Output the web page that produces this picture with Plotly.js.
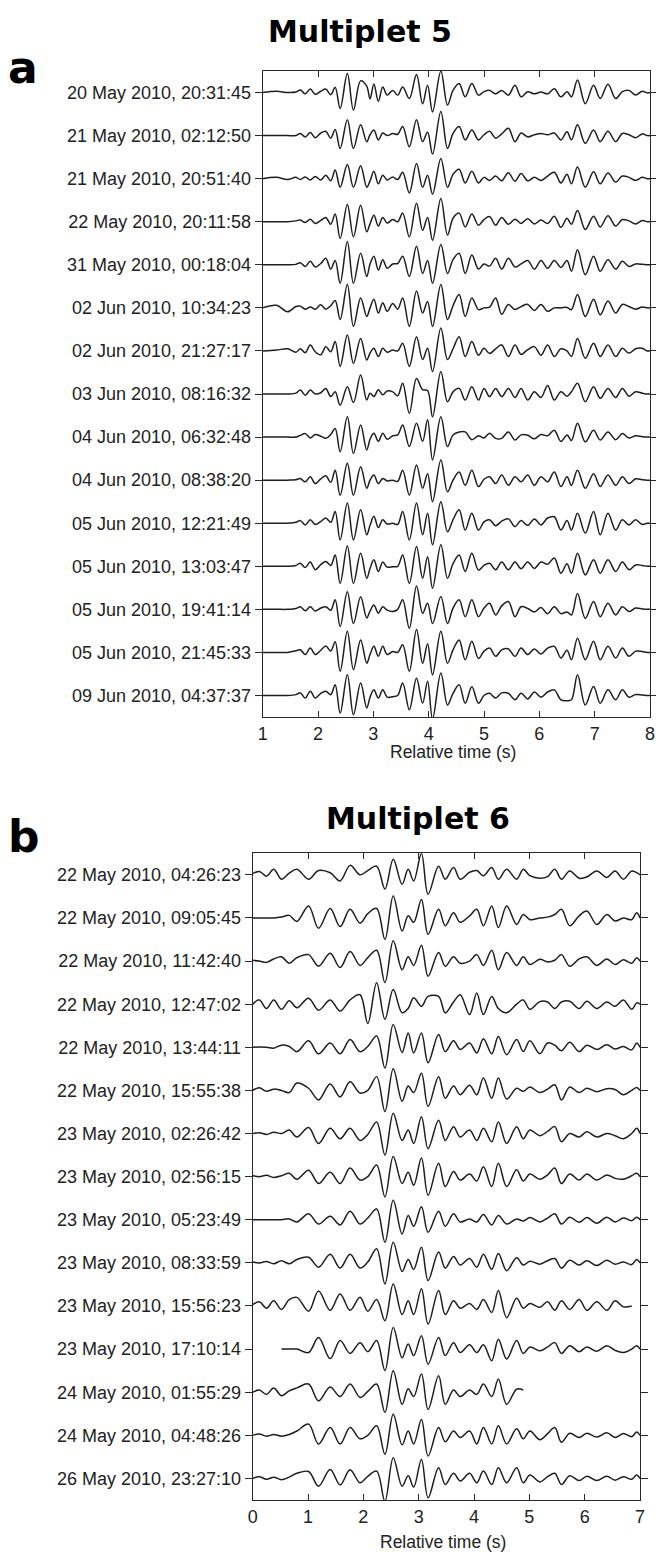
<!DOCTYPE html>
<html>
<head>
<meta charset="utf-8">
<script src="https://cdn.plot.ly/plotly-3.0.1.min.js"></script>
<style>html,body{margin:0;padding:0;background:#fff;}#chart{width:656px;height:1553px;}</style>
</head>
<body>
<div id="chart"></div>
<script>
// ---------- Panel a (Multiplet 5): shared time samples (s) ----------
const tA = [1.00,1.25,1.45,1.60,1.68,1.77,1.86,1.95,2.05,2.14, 2.23,2.31,2.40,2.53,2.64,2.77,2.88,2.94,3.01,3.09, 3.17,3.25,3.35,3.44,3.53,3.65,3.78,3.89,3.98,4.07, 4.22,4.34,4.44,4.55,4.66,4.78,4.90,5.00,5.10,5.21, 5.32,5.44,5.56,5.67,5.79,5.91,6.03,6.15,6.27,6.39, 6.50,6.58,6.69,6.83,6.98,7.10,7.24,7.38,7.50,7.62, 7.74,7.86,7.95,8.00];
const labelsA = ["20 May 2010, 20:31:45","21 May 2010, 02:12:50","21 May 2010, 20:51:40","22 May 2010, 20:11:58","31 May 2010, 00:18:04","02 Jun 2010, 10:34:23","02 Jun 2010, 21:27:17","03 Jun 2010, 08:16:32","04 Jun 2010, 06:32:48","04 Jun 2010, 08:38:20","05 Jun 2010, 12:21:49","05 Jun 2010, 13:03:47","05 Jun 2010, 19:41:14","05 Jun 2010, 21:45:33","09 Jun 2010, 04:37:37"];
const tickA = [1,2,3,4,5,6,7,8];
// normalised amplitudes (1 = trace spacing)
const a1  = [0,0.03,0,0.01,0.06,-0.03,0.08,-0.04,0.03,0.08, -0.05,0.12,-0.37,0.44,-0.41,0.27,0.15,-0.15,0.2,-0.2, 0.13,-0.06,0.05,-0.06,0.13,-0.14,0.42,-0.26,0.17,-0.45, 0.5,-0.29,0.05,0.21,-0.1,0.21,-0.06,0.02,0.05,-0.03, 0.05,-0.06,0.17,-0.1,0.02,-0.03,0.01,-0.03,0.09,-0.1, 0.02,-0.1,0.29,-0.26,0.17,-0.14,0.19,-0.14,0.02,0.05, -0.06,0.03,-0.01,0];
const a2  = [0,0,0,0,0.05,-0.03,0.07,-0.05,0.06,0.1, -0.06,0.14,-0.3,0.37,-0.3,0.25,-0.14,0.02,0.13,-0.1, 0.06,0,0.05,0.03,0.21,-0.26,0.37,-0.14,0.08,-0.43, 0.56,-0.3,0.05,0.21,-0.1,0.13,-0.1,0.02,0.1,-0.06, 0.04,0.17,-0.14,0.06,-0.03,0.02,0.05,0.02,0.06,-0.1, 0.09,-0.1,0.25,-0.18,0.13,-0.14,0.1,-0.14,0.05,0.02, -0.05,0.04,0,0];
const a3  = [0,0.03,-0.02,0.03,-0.02,0.04,-0.03,0.05,-0.03,0.08, -0.05,0.2,-0.2,0.33,-0.2,0.3,-0.2,-0.05,0.17,-0.12, 0.08,-0.03,0.04,-0.02,0.15,-0.33,0.35,-0.2,0.08,-0.36, 0.47,-0.2,0.1,0.22,-0.1,0.17,-0.1,0.03,-0.04,0.06, -0.05,0.14,-0.06,0.12,-0.05,0.03,-0.04,0.06,0.15,-0.1, 0.1,-0.12,0.27,-0.2,0.16,-0.12,0.13,-0.08,0.06,0.03, -0.04,0.03,0,0];
const a4  = [0,0,0,0.02,0.04,-0.02,0.06,-0.04,0.03,0.1, -0.06,0.18,-0.39,0.4,-0.35,0.38,-0.23,-0.05,0.15,-0.1, 0.1,-0.03,0.05,0,0.2,-0.35,0.43,-0.2,0.1,-0.43, 0.54,-0.31,0.08,0.2,-0.12,0.18,-0.08,0.05,0.12,-0.08, 0.1,-0.06,0.06,-0.04,0.07,-0.05,0.04,-0.04,0.13,-0.13, 0.08,-0.06,0.26,-0.18,0.13,-0.12,0.14,-0.1,0.05,0.02, -0.05,0.03,0,0];
const a5  = [0,0,0,0.01,0.05,-0.04,0.08,-0.05,0.03,0.15, -0.1,0.1,-0.43,0.54,-0.43,0.27,-0.27,0.02,0.2,-0.12, 0.12,-0.08,0.02,0.03,0.2,-0.27,0.43,-0.2,0.1,-0.43, 0.47,-0.2,0.12,0.27,-0.2,0.23,-0.1,0.02,-0.03,0.15, -0.1,0.15,-0.05,0.02,0.1,-0.1,0.1,-0.08,0.1,-0.06, 0.1,-0.15,0.35,-0.23,0.2,-0.15,0.12,-0.1,0.08,-0.04, 0.02,0.01,0,0];
const a6  = [0,0.06,-0.09,0.03,0.04,-0.03,0.02,-0.03,0.07,-0.03, 0.05,0.17,-0.27,0.54,-0.43,0.23,-0.2,0,0.2,-0.12, 0.12,-0.08,0.1,-0.03,0.23,-0.43,0.39,-0.12,0.15,-0.43, 0.54,-0.27,0.05,0.31,-0.2,0.23,-0.04,0,0.02,0.23, -0.15,0.08,-0.04,0.03,0.08,-0.06,0.08,-0.08,0,0, 0.01,-0.04,0.31,-0.2,0.2,-0.16,0.16,-0.12,0.08,0.03, -0.03,0.02,0,0];
const a7  = [0,0.02,0.05,-0.03,0.05,-0.04,0.14,-0.02,-0.09,0.1, -0.02,0.22,-0.36,0.37,-0.29,0.29,-0.21,-0.05,0.06,-0.13, 0.06,-0.03,0.02,0,0.18,-0.36,0.33,-0.2,0.06,-0.48, 0.53,-0.2,0.05,0.33,-0.13,0.22,-0.1,0.06,-0.06,0.05, 0.14,-0.13,0.14,-0.08,0.03,0.1,-0.1,0.14,-0.13,0.05, 0,-0.13,0.29,-0.17,0.18,-0.13,0.14,-0.13,0.06,-0.05, 0.05,0.06,0,0];
const a8  = [0,0,0,0.02,0.09,-0.03,0.09,0,0.03,0.13, -0.06,0.05,-0.26,0.17,-0.2,0.44,-0.14,0.02,-0.06,0.1, -0.02,0.07,0.05,-0.04,0.25,-0.45,0.36,0.1,0.08,-0.53, 0.52,-0.18,0.05,0.13,-0.14,0.17,-0.14,0.13,-0.06,0.13, -0.06,0.13,-0.08,0.13,-0.14,0.05,-0.08,0.2,-0.14,0.05, -0.05,0.05,0.25,-0.18,0.17,-0.1,0.13,-0.08,0.13,-0.05, 0.05,0.02,0,0];
const a9  = [0,0,0,0,0.04,0.08,-0.02,0.06,0.02,-0.03, 0.06,0.2,-0.34,0.47,-0.38,0.28,-0.3,-0.05,0.09,-0.1, 0.09,-0.05,0.03,0.05,0.28,-0.22,0.32,-0.1,0.4,-0.53, 0.47,-0.22,0.05,0.12,0.12,-0.06,0.03,-0.02,0.09,-0.03, -0.03,0.12,-0.07,0.05,0.04,-0.04,0.06,0.03,0.16,-0.1, 0.05,-0.08,0.32,-0.11,0.16,-0.07,0.12,-0.06,0.08,-0.02, 0.03,0.01,0,0];
const a10 = [0,0,0,0.01,0.04,-0.04,0.08,-0.08,0.03,0.1, -0.05,0.23,-0.35,0.39,-0.35,0.31,-0.19,0,0.12,-0.08, 0.04,-0.02,0,-0.03,0.23,-0.35,0.35,-0.19,0.15,-0.5, 0.47,-0.27,0,0.19,-0.12,0.23,-0.15,0.02,0.08,-0.08, 0.12,-0.12,0.08,-0.04,0.12,-0.12,0.08,-0.04,0.19,-0.15, 0.08,-0.12,0.23,-0.19,0.15,-0.15,0.12,-0.12,0.08,-0.08, 0.03,0.01,0,0];
const a11 = [0,0,0,0.02,0.06,-0.04,0.08,-0.03,0.04,0.12, 0.02,0.27,-0.39,0.47,-0.39,0.31,-0.27,-0.05,0.16,-0.1, 0.08,-0.02,0,-0.03,0.27,-0.39,0.47,-0.27,0.23,-0.5, 0.5,-0.2,0.08,0.31,-0.16,0.23,-0.16,0.03,0.08,-0.06, 0.05,0.1,-0.08,0.06,-0.05,0.1,-0.04,0.12,0.15,-0.16, 0.06,-0.16,0.23,-0.23,0.27,-0.27,0.23,-0.16,0.08,-0.04, 0.08,-0.03,0,0];
const a12 = [0,0,0,0.02,0.07,-0.03,0.1,-0.08,0.04,0.11, 0.02,0.26,-0.4,0.47,-0.4,0.3,-0.28,-0.05,0.15,-0.12, 0.1,-0.02,-0.01,0,0.26,-0.4,0.46,-0.28,0.22,-0.51, 0.5,-0.28,0.06,0.26,-0.12,0.3,-0.09,0.02,0.07,-0.08, 0.1,-0.08,0.1,-0.06,0.1,-0.05,0.1,0.05,0.19,-0.16, 0.06,-0.16,0.3,-0.2,0.15,-0.16,0.15,-0.12,0.1,-0.08, 0.03,0.02,0,0];
const a13 = [0,0,0,0.02,0.06,-0.03,0.06,-0.04,0.03,0.06, -0.02,0.22,-0.4,0.41,-0.33,0.29,-0.2,-0.04,0.1,-0.09, 0.06,-0.02,-0.05,0,0.22,-0.44,0.54,-0.09,0.14,-0.33, 0.3,-0.33,0.03,0.22,-0.17,0.22,-0.17,0.03,0.14,-0.13, 0.08,0.18,-0.17,0.06,0.02,-0.06,0.04,-0.1,0.06,-0.1, -0.06,-0.13,0.37,-0.21,0.18,-0.17,0.14,-0.13,0.06,-0.05, 0.03,0.01,0,0];
const a14 = [0,0,0,0.04,0.06,-0.05,0.1,-0.05,0.05,0.15, 0.03,0.25,-0.44,0.49,-0.4,0.29,-0.25,-0.05,0.14,-0.09, 0.14,-0.05,0.02,0,0.18,-0.44,0.53,-0.25,0.2,-0.52, 0.49,-0.25,0.06,0.29,-0.17,0.26,-0.14,0.03,0.1,-0.09, 0.06,0.08,-0.09,0.1,-0.05,0.08,-0.04,0.1,0.14,-0.13, 0.05,-0.17,0.33,-0.17,0.26,-0.17,0.14,-0.13,0.1,-0.09, 0.03,0.02,0,0];
const a15 = [0,0,0,0.02,0.06,-0.06,0.1,-0.06,0.05,0.1, 0.02,0.25,-0.41,0.48,-0.45,0.29,-0.29,-0.04,0.13,-0.06, 0.13,-0.04,-0.03,0,0.29,-0.33,0.4,-0.18,0.33,-0.55, 0.52,-0.22,0.05,0.25,-0.18,0.2,-0.18,0,0.05,-0.06, 0.06,0.05,-0.1,0.05,-0.08,0.08,-0.04,0.08,0.13,-0.1, -0.12,-0.1,0.48,-0.22,0.21,-0.18,0.13,-0.1,0.13,-0.04, 0.02,0.01,0,0];

// ---------- Panel b (Multiplet 6) ----------
const tB = [0.00,0.12,0.25,0.38,0.52,0.66,0.80,1.01,1.19,1.40, 1.58,1.76,1.94,2.08,2.24,2.39,2.54,2.70,2.81,2.91, 3.05,3.17,3.36,3.48,3.63,3.75,3.92,4.05,4.17,4.32, 4.44,4.59,4.77,4.89,5.01,5.19,5.33,5.46,5.58,5.73, 5.90,6.04,6.22,6.40,6.55,6.70,6.85,6.94,7.00];
const labelsB = ["22 May 2010, 04:26:23","22 May 2010, 09:05:45","22 May 2010, 11:42:40","22 May 2010, 12:47:02","22 May 2010, 13:44:11","22 May 2010, 15:55:38","23 May 2010, 02:26:42","23 May 2010, 02:56:15","23 May 2010, 05:23:49","23 May 2010, 08:33:59","23 May 2010, 15:56:23","23 May 2010, 17:10:14","24 May 2010, 01:55:29","24 May 2010, 04:48:26","26 May 2010, 23:27:10"];
const tickB = [0,1,2,3,4,5,6,7];
const b1  = [0.03,0.08,-0.03,0.13,-0.1,0.04,0.13,-0.1,0.1,0.05, -0.14,0.22,0,0.1,0.2,-0.33,0.36,-0.22,0.13,-0.14, 0.5,-0.45,0.2,-0.1,0.17,-0.1,0.06,0.1,-0.02,0.17, -0.1,0.13,-0.1,0.13,-0.02,-0.08,-0.04,0.13,-0.1,0.09, -0.08,-0.05,0.09,-0.06,0.09,-0.1,0.09,0.05,0];
const b2  = [0,0,0,0,0.02,0.06,-0.08,0.28,-0.24,0.22, -0.2,0.2,-0.12,0.1,0.22,-0.5,0.51,-0.3,0.05,-0.1, 0.43,-0.38,0.2,-0.18,0.12,-0.1,0.05,0.2,-0.18,0.28, -0.22,0.28,-0.15,0.08,-0.04,0,0.02,0.08,0.2,-0.18, 0.05,0.16,-0.15,0.08,-0.07,0,-0.04,0.12,0];
const b3  = [0.02,0,-0.03,0.05,0.1,-0.05,0.08,0.15,-0.12,0.18, -0.15,0.22,-0.1,0.08,0.25,-0.5,0.47,-0.2,0.1,-0.1, 0.37,-0.35,0.2,-0.12,0.1,-0.05,0,0.15,-0.1,0.25, -0.2,0.2,-0.1,0.1,-0.08,0.04,-0.02,0.02,0.15,-0.12, 0.05,0.1,-0.1,0.05,-0.08,0.03,-0.05,0.08,0];
const b4  = [0,0.1,-0.1,0.1,-0.12,0.08,-0.08,0.14,-0.14,0.1, -0.16,0.1,0.22,-0.45,0.5,-0.35,0.34,-0.2,-0.1,0.15, -0.05,0.18,0.18,-0.2,0.05,0.22,-0.24,0.26,-0.24,0.18, -0.1,-0.2,0,0.1,-0.12,0.06,0.05,-0.1,0.05,0.07, -0.1,0.07,-0.1,0.05,-0.05,0.1,-0.12,0.03,0];
const b5  = [0,0.01,0,-0.02,0.05,0.02,-0.1,0.15,-0.15,0.1, -0.15,0.18,-0.1,0.02,0.26,-0.48,0.53,-0.12,0.33,-0.13, 0.33,-0.36,0.3,-0.1,0.15,-0.05,0.1,-0.13,0.2,-0.15, 0.25,-0.17,0.18,-0.1,0.15,-0.15,0.1,0.05,-0.08,0.12, -0.1,0.05,-0.05,0.06,-0.04,0.02,-0.06,0.1,0];
const b6  = [0,0.06,-0.02,0.03,0,-0.05,0.17,0.05,-0.22,0.15, -0.15,0.2,-0.06,0,0.32,-0.49,0.5,-0.25,0.1,-0.05, 0.4,-0.37,0.32,-0.18,0.1,-0.1,0.12,-0.1,0.29,-0.18, 0.29,-0.2,0.05,-0.02,0.08,-0.05,0.03,0.13,-0.22,0.08, -0.05,0.05,-0.03,0.04,0.02,-0.1,0,0.07,0];
const b7  = [0,0.02,-0.02,0.03,0,0.08,-0.08,0.14,-0.23,0.12, -0.12,0.12,-0.16,-0.02,0.27,-0.5,0.47,-0.16,0.08,-0.23, 0.39,-0.35,0.31,-0.16,0.16,-0.08,0.08,-0.16,0.12,-0.19, 0.27,-0.23,0.16,-0.12,0.08,-0.05,0.05,0.16,-0.19,0, -0.08,0.04,-0.08,0,-0.05,-0.12,0,0.12,0];
const b8  = [0.02,0,0.03,-0.02,0.02,0.08,-0.06,0.15,-0.16,0.1, -0.16,0.2,-0.08,0,0.27,-0.47,0.47,-0.16,0.1,-0.2, 0.43,-0.43,0.31,-0.23,0.12,-0.08,0.06,-0.1,0.23,-0.23, 0.31,-0.23,0.16,-0.1,0.06,-0.06,0.04,0.2,-0.16,0.06, -0.08,0.06,-0.08,0.04,-0.04,-0.06,0.02,0.08,0];
const b9  = [0,0,0,0,0,0.02,-0.05,0.14,-0.1,0.08, -0.12,0.2,-0.1,0.04,0.25,-0.52,0.45,-0.33,0.1,-0.15, 0.3,-0.29,0.2,-0.15,0.14,-0.05,0.02,-0.05,0.12,-0.12, 0.1,-0.1,0.02,-0.03,0.05,-0.05,0.04,0.14,-0.1,0.06, -0.06,0.05,-0.08,0.06,-0.05,0.04,-0.02,0.06,0];
const b10 = [0.02,0,0.03,-0.02,0.05,-0.02,0.08,0.13,-0.1,0.2, -0.12,0.2,-0.12,0.02,0.33,-0.49,0.48,-0.2,0.08,-0.15, 0.36,-0.41,0.25,-0.12,0.15,-0.05,0.1,-0.1,0.2,-0.15, 0.22,-0.18,0.12,-0.05,0.04,-0.03,0.05,0.1,-0.12,0.06, -0.05,0.05,-0.06,0.06,-0.03,0.02,-0.04,0.08,0];
const b11 = [0.03,0.1,-0.05,0.12,-0.08,0.15,0.2,-0.12,0.35,-0.1, 0.28,-0.1,0.2,-0.12,0.15,-0.34,0.51,-0.2,0.12,-0.2, 0.4,-0.42,0.36,-0.2,0.12,-0.05,0.06,-0.08,0.15,-0.15, 0.36,-0.27,0.18,-0.05,0.06,-0.03,0.1,-0.1,0.12,-0.08, 0.15,-0.1,0.1,-0.1,0.12,-0.02,0,null,null];
const b12 = [null,null,null,null,0,0,0,-0.08,0.27,-0.22, 0.2,-0.1,0.15,-0.06,0.2,-0.5,0.5,-0.2,0.12,-0.15, 0.31,-0.35,0.27,-0.15,0.15,-0.08,0.1,-0.08,0.1,-0.27, 0.23,-0.23,0.2,-0.1,0.05,-0.04,0.05,0.15,-0.1,0.08, -0.06,0.05,-0.05,0.08,-0.03,-0.08,0,0.08,0];
const b13 = [0,0.05,-0.05,0.1,-0.08,0.03,0.1,0.19,-0.2,0.12, -0.1,0.19,-0.12,0.02,0.19,-0.47,0.5,-0.28,0.08,-0.1, 0.42,-0.4,0.38,-0.28,0.05,-0.1,0.05,-0.05,0.19,-0.1, 0.3,-0.28,0.07,0.05,null,null,null,null,null,null, null,null,null,null,null,null,null,null,null];
const b14 = [0,0.03,-0.02,0.02,-0.02,0.02,0.1,0.26,-0.2,0.18, -0.2,0.18,-0.08,0,0.22,-0.44,0.49,-0.22,0.1,-0.2, 0.37,-0.48,0.18,-0.15,0.1,-0.05,0.1,-0.2,0.18,-0.2, 0.22,-0.2,0.15,-0.08,0.1,-0.1,0.04,0.18,-0.16,0.05, -0.05,0.05,-0.04,0.06,-0.05,0.04,-0.03,0.08,0];
const b15 = [0,0.04,-0.02,0.03,-0.03,0.03,0.12,0.16,-0.18,0.21, -0.15,0.2,-0.1,0.05,0.17,-0.53,0.48,-0.18,0.06,-0.2, 0.44,-0.45,0.25,-0.14,0.12,-0.06,0.12,-0.1,0.17,-0.14, 0.25,-0.1,0.25,-0.1,0.08,-0.08,0.04,0.12,-0.14,0.06, -0.05,0.05,-0.05,0.05,-0.04,0.04,-0.02,0.08,0];

const rowsA = [a1,a2,a3,a4,a5,a6,a7,a8,a9,a10,a11,a12,a13,a14,a15];
const rowsB = [b1,b2,b3,b4,b5,b6,b7,b8,b9,b10,b11,b12,b13,b14,b15];

const W = 656, H = 1553;
const px = v => v / W;
const py = v => 1 - v / H;
const LINE = '#1e1e1e';
const FRAME = '#2a2a2a';
const TXT = '#222';
const FONT = 'Liberation Sans, Arial, Helvetica, sans-serif';

const data = [];
function addRows(rows, t, xa, ya) {
  rows.forEach((amp, i) => {
    data.push({
      x: t,
      y: amp.map(v => v === null ? null : (i + 1) - v),
      type: 'scatter', mode: 'lines',
      line: {color: LINE, width: 1.5, shape: 'spline', smoothing: 1},
      xaxis: xa, yaxis: ya, hoverinfo: 'skip', showlegend: false
    });
  });
}
addRows(rowsA, tA, 'x', 'y');
addRows(rowsB, tB, 'x2', 'y2');

const rowIdx = labelsA.map((_, i) => i + 1);

function xAxis(dom, range, ticks, anchor) {
  return {domain: dom, range: range, tickvals: ticks, ticktext: ticks.map(String),
    ticks: 'inside', ticklen: 6, tickwidth: 1, tickcolor: FRAME,
    showline: true, linecolor: FRAME, linewidth: 1, mirror: 'ticks',
    showgrid: false, zeroline: false, anchor: anchor,
    tickfont: {family: FONT, size: 18, color: TXT}, fixedrange: true};
}
function yAxis(dom, labels, anchor) {
  return {domain: dom, range: [15.5, 0.5], tickvals: rowIdx, ticktext: labels,
    ticks: 'outside', ticklen: 7, tickwidth: 1, tickcolor: FRAME,
    showline: true, linecolor: FRAME, linewidth: 1, mirror: 'ticks',
    showgrid: false, zeroline: false, anchor: anchor,
    tickfont: {family: FONT, size: 18, color: TXT}, fixedrange: true};
}

const layout = {
  width: W, height: H,
  margin: {l: 0, r: 0, t: 0, b: 0},
  paper_bgcolor: '#fff', plot_bgcolor: '#fff',
  showlegend: false,
  xaxis:  xAxis([px(262.7), px(650)], [1, 8], tickA, 'y'),
  yaxis:  yAxis([py(717), py(71)], labelsA, 'x'),
  xaxis2: xAxis([px(252.7), px(640)], [0, 7], tickB, 'y2'),
  yaxis2: yAxis([py(1500), py(853.3)], labelsB, 'x2'),
  annotations: [
    {text: '<b>Multiplet 5</b>', x: px(360), y: py(31), xref: 'paper', yref: 'paper', showarrow: false, xanchor: 'center', yanchor: 'middle', font: {family: 'DejaVu Sans', size: 30, color: '#000'}},
    {text: '<b>Multiplet 6</b>', x: px(417.5), y: py(818), xref: 'paper', yref: 'paper', showarrow: false, xanchor: 'center', yanchor: 'middle', font: {family: 'DejaVu Sans', size: 30, color: '#000'}},
    {text: '<b>a</b>', x: px(23.5), y: py(68), xref: 'paper', yref: 'paper', showarrow: false, xanchor: 'center', yanchor: 'middle', font: {family: 'DejaVu Sans', size: 44, color: '#000'}},
    {text: '<b>b</b>', x: px(24), y: py(836), xref: 'paper', yref: 'paper', showarrow: false, xanchor: 'center', yanchor: 'middle', font: {family: 'DejaVu Sans', size: 44, color: '#000'}},
    {text: 'Relative time (s)', x: px(452.5), y: py(752), xref: 'paper', yref: 'paper', showarrow: false, xanchor: 'center', yanchor: 'middle', font: {family: FONT, size: 17.5, color: TXT}},
    {text: 'Relative time (s)', x: px(442.5), y: py(1542), xref: 'paper', yref: 'paper', showarrow: false, xanchor: 'center', yanchor: 'middle', font: {family: FONT, size: 17.5, color: TXT}}
  ]
};

Plotly.newPlot('chart', data, layout, {staticPlot: true, displayModeBar: false});
</script>
</body>
</html>
